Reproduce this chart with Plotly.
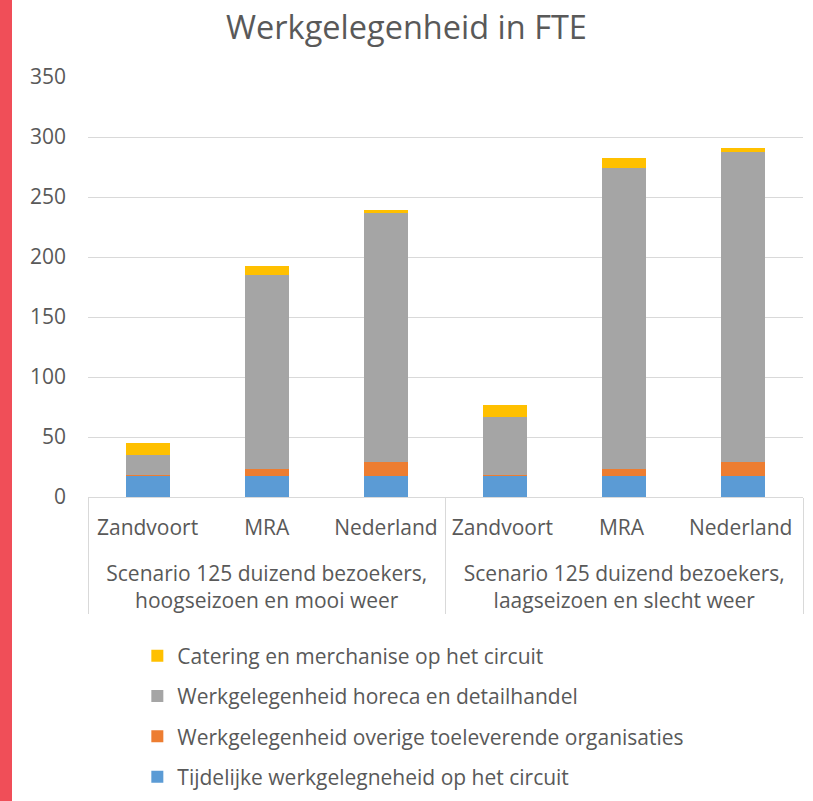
import plotly.graph_objects as go

groups = ["<br>Scenario 125 duizend bezoekers,<br>hoogseizoen en mooi weer"] * 3 + \
         ["<br>Scenario 125 duizend bezoekers,<br>laagseizoen en slecht weer"] * 3
regions = ["Zandvoort", "MRA", "Nederland", "Zandvoort ", "MRA ", "Nederland "]

tijdelijk = [17.8, 17.8, 17.8, 17.8, 17.8, 17.8]
overige = [0.5, 5.6, 11.7, 0.5, 5.6, 11.7]
horeca = [17.0, 161.5, 207.5, 48.5, 250.5, 258.3]
catering = [10.0, 8.0, 2.5, 10.0, 8.5, 3.0]

series = [
    ("Tijdelijke werkgelegneheid op het circuit", tijdelijk, "#5B9BD5"),
    ("Werkgelegenheid overige toeleverende organisaties", overige, "#ED7D31"),
    ("Werkgelegenheid horeca en detailhandel", horeca, "#A5A5A5"),
    ("Catering en merchanise op het circuit", catering, "#FFC000"),
]

W, H = 813, 801
ML, MR, MT, MB = 88, 10, 77, 304
PW = W - ML - MR
PH = H - MT - MB
FS = 21

fig = go.Figure()
for i, (name, vals, col) in enumerate(series):
    fig.add_trace(go.Bar(
        x=[groups, regions], y=vals, name=name,
        marker=dict(color=col, line=dict(width=0)),
        legendgroup=str(i), legendrank=10 - i,
    ))

fig.update_layout(
    width=W, height=H,
    margin=dict(l=ML, r=MR, t=MT, b=MB, autoexpand=False),
    barmode="stack", bargap=0.63,
    paper_bgcolor="white", plot_bgcolor="white",
    font=dict(family="Open Sans", size=FS, color="#595959"),
    title=dict(text="Werkgelegenheid in FTE", x=0.5, xanchor="center",
               y=1 - 28 / H, yanchor="middle", font=dict(size=32.5, color="#595959")),
    showlegend=True,
    legend=dict(orientation="v", traceorder="grouped", x=0.069, xanchor="left",
                y=-0.33, yanchor="top", tracegroupgap=10,
                font=dict(size=FS, color="#595959"), itemwidth=30),
    shapes=[dict(type="rect", xref="paper", yref="paper",
                 x0=-ML / PW, x1=(12 - ML) / PW, y0=-MB / PH,
                 y1=1 + MT / PH, fillcolor="#F04E58", line=dict(width=0),
                 layer="below")],
)
fig.update_yaxes(range=[0, 350], dtick=50, showgrid=True, gridcolor="#D9D9D9",
                 gridwidth=1, zeroline=False, showline=False, automargin=False,
                 ticklabelstandoff=21, tickfont=dict(size=FS, color="#595959"))
fig.update_xaxes(type="multicategory", showline=True, linecolor="#D9D9D9", linewidth=1,
                 showdividers=True, dividercolor="#D9D9D9", dividerwidth=1,
                 automargin=False, ticklabelstandoff=12,
                 tickfont=dict(size=FS, color="#595959"), ticks="")

fig.write_html("out.html", config={"displayModeBar": False},
               post_script="document.body.style.margin='0';")
